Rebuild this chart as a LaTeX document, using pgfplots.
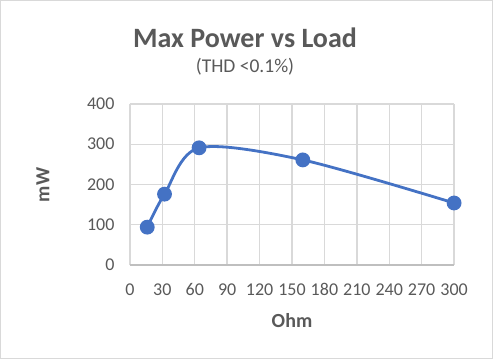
\documentclass[border=0pt]{standalone}
\usepackage{pgfplots}
\pgfplotsset{compat=1.18}
\usepackage{fontspec}
\setmainfont{Carlito}
\definecolor{txt}{HTML}{595959}
\definecolor{grd}{HTML}{D9D9D9}
\definecolor{axl}{HTML}{BFBFBF}
\definecolor{ser}{HTML}{4472C4}
\begin{document}
\begin{tikzpicture}[x=1pt,y=1pt]
\draw[grd, line width=0.8pt] (0.5,0.5) rectangle (492.5,358.5);
\begin{axis}[
  at={(130pt,94pt)}, anchor=south west,
  scale only axis, width=324pt, height=161pt,
  xmin=0, xmax=300, ymin=0, ymax=400,
  xtick={0,30,...,300}, ytick={0,100,...,400},
  grid=major, major grid style={grd, line width=1.4pt},
  axis line style={draw=none},
  major tick length=0pt,
  tick label style={font=\fontsize{18}{20}\selectfont, text=txt},
  xticklabel style={yshift=-15pt},
  yticklabel style={xshift=-12pt},
  /pgf/number format/assume math mode=true,
  clip=false,
]
\draw[axl, line width=1.4pt] (axis cs:0,0) -- (axis cs:300,0);
\addplot[ser, line width=2.8pt, smooth, tension=0.5, mark=*, mark size=6pt, mark options={fill=ser, draw=ser}]
  coordinates {(16,94) (32,176) (64,291) (160,261) (300,154)};
\end{axis}
\node[text=txt, font=\fontsize{28}{30}\selectfont\bfseries] at (245,321) {Max Power vs Load};
\node[text=txt, font=\fontsize{19.5}{22}\selectfont] at (245,292) {(THD <0.1\%)};
\node[text=txt, font=\fontsize{20}{22}\selectfont\bfseries, rotate=90] at (43,174) {mW};
\node[text=txt, font=\fontsize{20}{22}\selectfont\bfseries] at (292,38) {Ohm};
\end{tikzpicture}
\end{document}
